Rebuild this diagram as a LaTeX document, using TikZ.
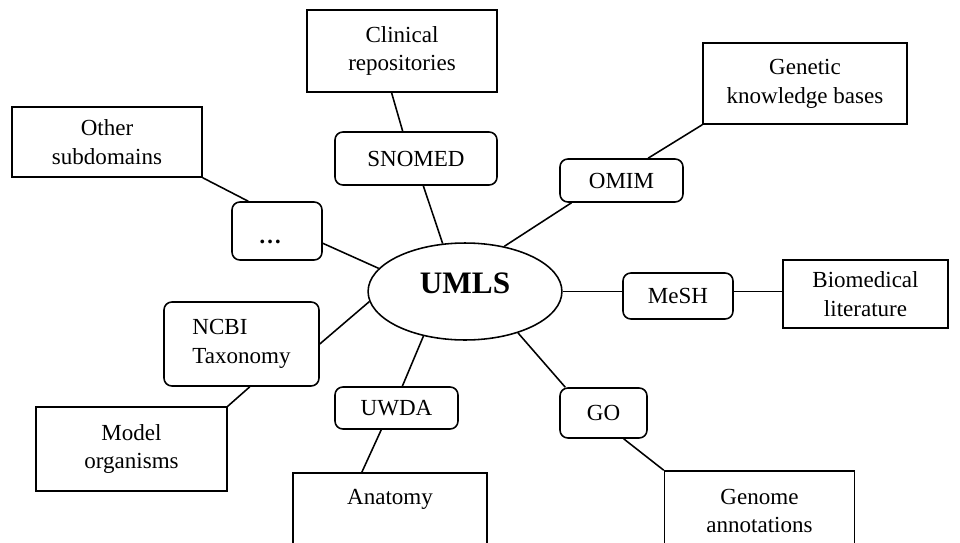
\documentclass[tikz,border=0pt]{standalone}
\usepackage{fontspec}
\setmainfont{Liberation Serif}
\usetikzlibrary{shapes,positioning}

\begin{document}
\begin{tikzpicture}[
  x=0.018cm,
  y=-0.018cm,
  font=\fontsize{11.8}{14.8}\selectfont,
  box/.style={
    rectangle,
    draw=black,
    fill=white,
    line width=0.8pt,
    inner sep=0pt,
    align=center
  },
  vocab/.style={
    rectangle,
    rounded corners=4pt,
    draw=black,
    fill=white,
    line width=0.8pt,
    inner sep=0pt,
    align=center
  },
  hub/.style={
    ellipse,
    draw=black,
    line width=0.8pt,
    inner sep=0pt,
    minimum width=3.49cm,
    minimum height=1.746cm,
    text depth=8.8pt,
    font=\fontsize{16}{18}\selectfont\bfseries
  },
  line/.style={
    line width=0.8pt,
    draw=black
  }
]
\useasboundingbox (0,0) rectangle (960,542);

% Center node
\node[hub] (umls) at (465,291.5) {UMLS};

% Top: SNOMED
\node[vocab, minimum width=2.916cm, minimum height=0.954cm] (snomed) at (416,158.5) {SNOMED};
\node[box, minimum width=3.42cm, minimum height=1.476cm] (clinical) at (402,51) {Clinical\\repositories};
\draw[line] (clinical.-104) -- (snomed.116);
\draw[line] (snomed.-75) -- (umls.115);

% Upper left: other subdomains
\node[vocab, minimum width=1.62cm, minimum height=1.044cm, text height=12.6pt, text depth=0pt] (dots) at (277,231) {\textbf{\ldots}\hspace{7pt}};
\node[box, minimum width=3.42cm, minimum height=1.26cm] (other) at (107,142) {Other\\subdomains};
\draw[line] (other.south east) -- (dots.134);
\draw[line] (dots.-15) -- (umls.165);

% Upper right: OMIM
\node[vocab, minimum width=2.214cm, minimum height=0.774cm] (omim) at (621.5,180.5) {OMIM};
\node[box, minimum width=3.672cm, minimum height=1.458cm] (genetic) at (805,83.5) {Genetic\\knowledge bases};
\draw[line] (genetic.south west) -- (omim.40);
\draw[line] (omim.-156) -- (umls.49);

% Right: MeSH
\node[vocab, minimum width=1.98cm, minimum height=0.828cm] (mesh) at (678,296) {MeSH};
\node[box, minimum width=2.97cm, minimum height=1.224cm] (biomed) at (865.5,294) {Biomedical\\literature};
\draw[line] (umls.east) -- (umls.east -| mesh.west);
\draw[line] (umls.east -| mesh.east) -- (umls.east -| biomed.west);

% Lower right: GO
\node[vocab, minimum width=1.566cm, minimum height=0.9cm] (go) at (603.5,413) {GO};
\node[box, minimum width=3.42cm, minimum height=1.44cm] (genome) at (759.5,511) {Genome\\annotations};
\draw[line] (umls.-38) -- (go.146);
\draw[line] (go.-52) -- (genome.north west);

% Bottom: UWDA
\node[vocab, minimum width=2.214cm, minimum height=0.756cm] (uwda) at (396.5,408) {UWDA};
\node[box, minimum width=3.492cm, minimum height=1.368cm] (anatomy) at (390,511) {Anatomy\\~};
\draw[line] (umls.-133) -- (uwda.75);
\draw[line] (uwda.-125) -- (anatomy.126);

% Left: NCBI Taxonomy
\node[vocab, minimum width=2.79cm, minimum height=1.512cm, align=left] (ncbi) at (241.5,344) {NCBI\\Taxonomy};
\node[box, minimum width=3.438cm, minimum height=1.512cm] (model) at (131.5,449) {Model\\organisms};
\draw[line] (umls.186) -- (ncbi.east);
\draw[line] (ncbi.-79) -- (model.north east);

\end{tikzpicture}
\end{document}
